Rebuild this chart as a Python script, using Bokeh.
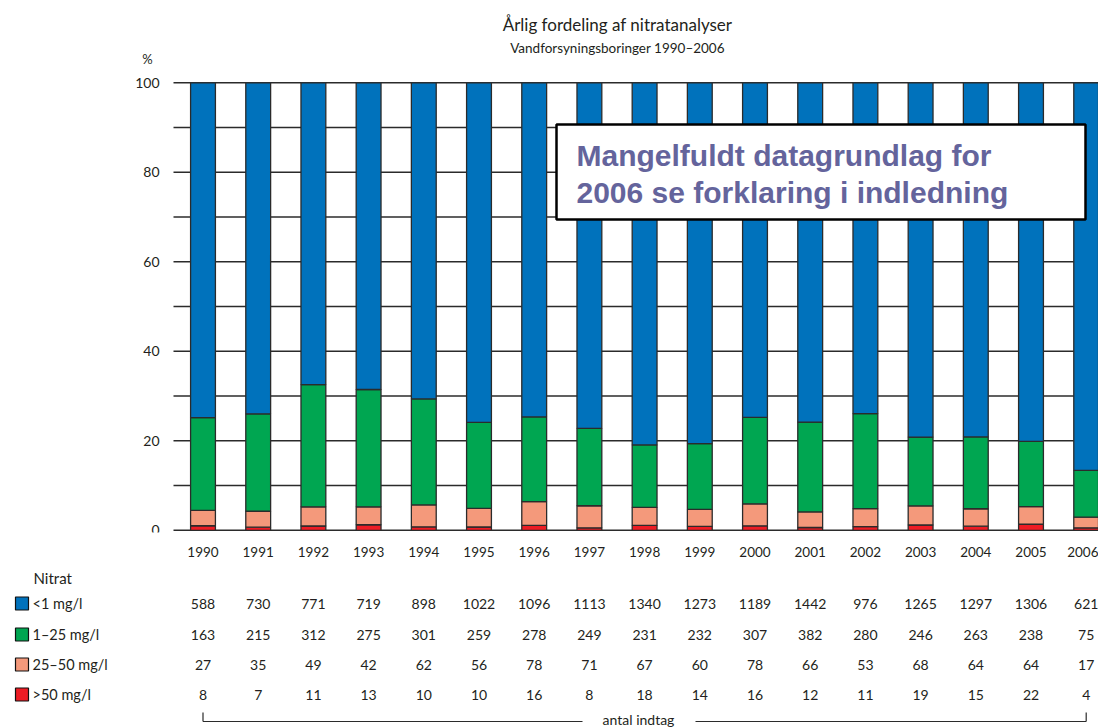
import numpy as np
from bokeh.plotting import figure
from bokeh.layouts import column
from bokeh.models import Range1d, FixedTicker, BoxAnnotation, Label, ColumnDataSource
from bokeh.core.properties import value
from bokeh.embed import file_html
from bokeh.resources import INLINE

# ---------------- data ----------------
years = list(range(1990, 2007))
lt1 = [588, 730, 771, 719, 898, 1022, 1096, 1113, 1340, 1273, 1189, 1442, 976, 1265, 1297, 1306, 621]
r1_25 = [163, 215, 312, 275, 301, 259, 278, 249, 231, 232, 307, 382, 280, 246, 263, 238, 75]
r25_50 = [27, 35, 49, 42, 62, 56, 78, 71, 67, 60, 78, 66, 53, 68, 64, 64, 17]
gt50 = [8, 7, 11, 13, 10, 10, 16, 8, 18, 14, 16, 12, 11, 19, 15, 22, 4]
class_labels = ["<1 mg/l", "1–25 mg/l", "25–50 mg/l", ">50 mg/l"]
y_ticks = [0, 20, 40, 60, 80, 100]
y_tick_labels = ["0", "20", "40", "60", "80", "100"]
grid_ticks = [0, 10, 20, 30, 40, 50, 60, 70, 80, 90, 100]

title_text = "Årlig fordeling af nitratanalyser"
subtitle_text = "Vandforsyningsboringer 1990–2006"
note_lines = ["Mangelfuldt datagrundlag for", "2006 se forklaring i indledning"]

# ---------------- styling / layout ----------------
BLUE, GREEN, SALMON, RED = "#0072BC", "#00A651", "#F4997B", "#ED1C24"
colors = [BLUE, GREEN, SALMON, RED]
DARK = "#2b2b2b"
TXT = "#231f20"
FONT = "Lato"

X0, PX = 202.5, 55.2          # pixel of 1990 centre, px per year
Y0, PY = 529.8, 4.475          # pixel of 0 %, px per percent


def xr(px):
    return 1990 + (px - X0) / PX


def yr(py):
    return (Y0 - py) / PY


W = 1098
H1, H2 = 566, 162
BOT1 = 34

counts = np.array([gt50, r25_50, r1_25, lt1], dtype=float)
pct = counts / counts.sum(axis=0) * 100
src = ColumnDataSource(dict(year=years, gt50=pct[0], r25_50=pct[1],
                            r1_25=pct[2], lt1=pct[3]))

# ---------------- main chart ----------------
p1 = figure(width=W, height=H1, output_backend="svg", toolbar_location=None,
            x_range=Range1d(xr(0), xr(W)),
            y_range=Range1d(yr(H1 - BOT1), yr(0)),
            y_axis_location=None,
            min_border_left=0, min_border_right=0, min_border_top=0,
            min_border_bottom=BOT1)
p1.outline_line_color = None
p1.background_fill_color = "white"
p1.border_fill_color = "white"
p1.grid.visible = False

# gridlines (every 10 %) starting just left of the first bar
p1.segment(x0=[xr(173)] * len(grid_ticks), x1=[xr(W + 5)] * len(grid_ticks),
           y0=grid_ticks, y1=grid_ticks, line_color=DARK, line_width=1.5)
# y tick labels
p1.text(x=[xr(159)] * len(y_ticks), y=y_ticks, text=y_tick_labels,
        text_align="right", text_baseline="middle", text_font=value(FONT),
        text_font_size="14px", text_color=TXT)
p1.text(x=[xr(147)], y=[yr(58)], text=["%"], text_align="center",
        text_baseline="middle", text_font=value(FONT), text_font_size="13px",
        text_color=TXT)

p1.xaxis.ticker = FixedTicker(ticks=years)
p1.xaxis.axis_line_color = None
p1.xaxis.major_tick_line_color = None
p1.xaxis.minor_tick_line_color = None
p1.xaxis.major_tick_out = 0
p1.xaxis.major_label_standoff = 14
p1.xaxis.major_label_text_font = FONT
p1.xaxis.major_label_text_font_size = "13.5px"
p1.xaxis.major_label_text_color = TXT

p1.vbar_stack(["gt50", "r25_50", "r1_25", "lt1"], x="year", width=0.45,
              color=[RED, SALMON, GREEN, BLUE], line_color=DARK,
              line_width=1.3, source=src)

p1.add_layout(Label(x=xr(617), y=yr(24), text=title_text, text_align="center",
                    text_baseline="middle", text_font=FONT,
                    text_font_size="17px", text_color=TXT))
p1.add_layout(Label(x=xr(617), y=yr(47), text=subtitle_text, text_align="center",
                    text_baseline="middle", text_font=FONT,
                    text_font_size="13.5px", text_color=TXT))

p1.add_layout(BoxAnnotation(left=xr(556), right=xr(1085), top=yr(124),
                            bottom=yr(219), fill_color="white", fill_alpha=1,
                            line_color="black", line_width=2.5, line_alpha=1))
for txt, mid in zip(note_lines, [155, 192]):
    p1.add_layout(Label(x=xr(576), y=yr(mid), text=txt, text_align="left",
                        text_baseline="middle", text_font="Liberation Sans",
                        text_font_style="bold", text_font_size="30px",
                        text_color="#64649C"))

# ---------------- table below ----------------
p2 = figure(width=W, height=H2, output_backend="svg", toolbar_location=None,
            x_range=Range1d(xr(0), xr(W)), y_range=Range1d(H1 + H2, H1),
            x_axis_type=None, y_axis_type=None, min_border=0)
p2.outline_line_color = None
p2.background_fill_color = "white"
p2.border_fill_color = "white"

row_y = [603, 634, 664, 694]
series = [lt1, r1_25, r25_50, gt50]
tx, ty, tt = [], [], []
for vals, yy in zip(series, row_y):
    for yrv, v in zip(years, vals):
        tx.append(yrv)
        ty.append(yy)
        tt.append(str(v))
p2.text(x=tx, y=ty, text=tt, text_align="center", text_baseline="middle",
        text_font=value(FONT), text_font_size="14px", text_color=TXT)

# legend
p2.text(x=[xr(33)], y=[577], text=["Nitrat"], text_align="left",
        text_baseline="middle", text_font=value(FONT), text_font_size="15px",
        text_color=TXT)
p2.scatter(x=[xr(21.5)] * 4, y=row_y, marker="square", size=13,
           fill_color=colors, line_color="#111", line_width=1.2)
p2.text(x=[xr(32)] * 4, y=row_y, text=class_labels, text_align="left",
        text_baseline="middle", text_font=value(FONT), text_font_size="14.5px",
        text_color=TXT)

# bracket "antal indtag"
p2.segment(x0=[years[0], years[0], xr(695), years[-1]],
           y0=[712, 721, 721, 712],
           x1=[years[0], xr(582), years[-1], years[-1]],
           y1=[721, 721, 721, 721], line_color=DARK, line_width=1.2)
p2.text(x=[xr(638)], y=[719], text=["antal indtag"], text_align="center",
        text_baseline="middle", text_font=value(FONT), text_font_size="14px",
        text_color=TXT)

layout = column(p1, p2, spacing=0)
open("out.html", "w").write(file_html(layout, INLINE))
